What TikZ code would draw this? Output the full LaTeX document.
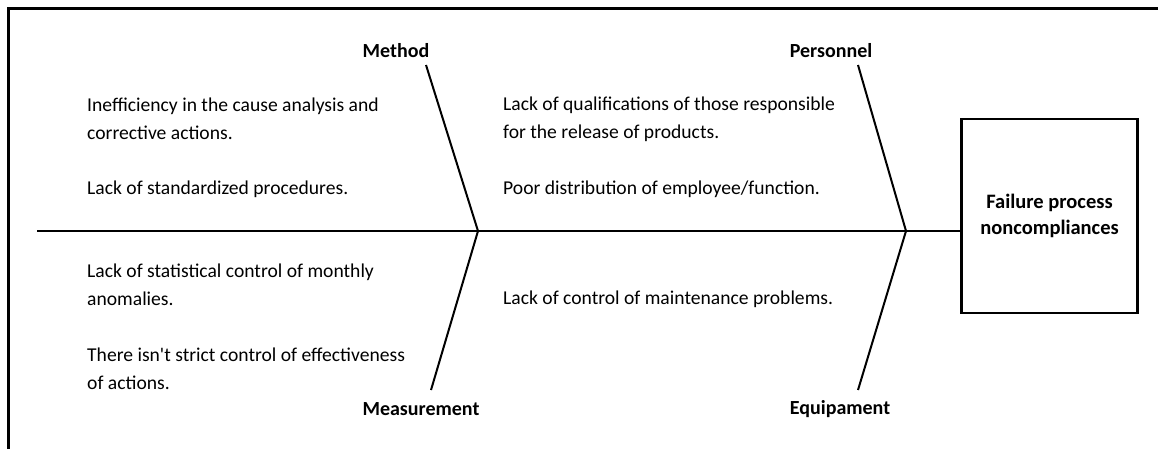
\documentclass[tikz,border=0pt]{standalone}
\usepackage{fontspec}
\setmainfont{Carlito}[Ligatures=TeXOff]
\begin{document}
\begin{tikzpicture}[x=1pt,y=-1pt,
  cause/.style={anchor=west,inner sep=0pt,align=left,font=\fontsize{19.6}{28}\selectfont},
  head/.style={inner sep=0pt,font=\fontsize{20}{22}\selectfont\bfseries},
  bone/.style={line width=2pt},
  effectbox/.style={draw,line width=2.5pt,minimum width=176pt,minimum height=194pt,inner sep=0pt,
    align=center,font=\fontsize{20.5}{26}\selectfont\bfseries}]
\useasboundingbox (0,0) rectangle (1158,449);
% outer frame (only left and top edges visible)
\draw[line width=3pt] (8.5,449) -- (8.5,8.5) -- (1158,8.5);
% effect box
\node[effectbox] (effect) at (1049.5,216) {Failure process\\noncompliances};
% spine and junctions
\coordinate (tail) at (37,231);
\coordinate (j1) at (478,231);
\coordinate (j2) at (906,231);
\draw[bone] (tail) -- (j1) -- (j2) -- (effect.west |- j2);
% bone ends
\coordinate (mtop) at (426,65);
\coordinate (mbot) at (431,390);
\coordinate (ptop) at (858,65);
\coordinate (pbot) at (858,390);
\draw[bone] (mtop) -- (j1) -- (mbot);
\draw[bone] (ptop) -- (j2) -- (pbot);
% category labels
\node[head] (method) at (396,51) {Method};
\node[head] (personnel) at (831,51) {Personnel};
\node[head] (measure) at (421,409) {Measurement};
\node[head] (equip) at (840,409) {Equipament};
% causes
\node[cause] (c1) at (87,119) {Inefficiency in the cause analysis and\\corrective actions.};
\node[cause] (c2) at (87,189) {Lack of standardized procedures.};
\node[cause] (c3) at (503,119) {Lack of qualifications of those responsible\\for the release of products.};
\node[cause] (c4) at (503,189) {Poor distribution of employee/function.};
\node[cause] (c5) at (87,285) {Lack of statistical control of monthly\\anomalies.};
\node[cause] (c6) at (87,369) {There isn't strict control of effectiveness\\of actions.};
\node[cause] (c7) at (503,299) {Lack of control of maintenance problems.};
\end{tikzpicture}
\end{document}
